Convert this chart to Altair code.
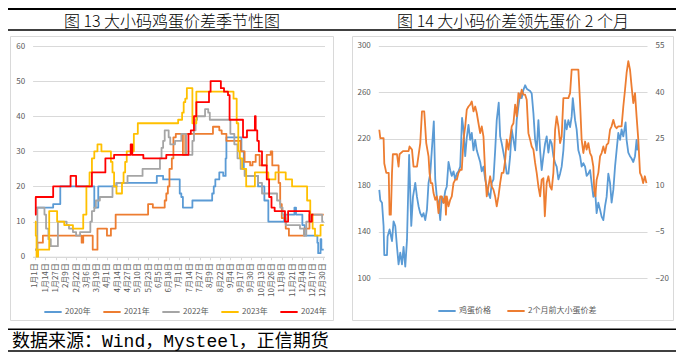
import altair as alt
import pandas as pd

W, H = 668, 344
FONT = "Noto Sans CJK SC"
AX = "#595959"
GRID = "#D9D9D9"

# ---------------- Left panel: seasonal big/small egg spread ----------------
years = ["2020年", "2021年", "2022年", "2023年", "2024年"]
year_colors = ["#5B9BD5", "#ED7D31", "#A5A5A5", "#FFC000", "#FF0000"]

day_2020 = [1, 24, 33, 76, 81, 104, 155, 163, 184, 186, 188, 200, 225, 227, 229, 234, 239, 242, 243, 262, 265, 267, 283, 291, 296, 316, 329, 331, 339, 342, 358, 359, 362, 363, 366]
val_2020 = [14, 15, 20, 14, 20, 21, 23, 22, 18, 17, 14, 16, 18, 20, 22, 24, 23, 28, 34, 30, 25, 23, 20, 16, 10, 12, 14, 12, 9, 6, 4, 1, 5, 2, 2]

day_2021 = [1, 4, 11, 60, 62, 74, 80, 92, 97, 103, 144, 150, 165, 167, 169, 171, 174, 176, 179, 188, 191, 226, 234, 237, 243, 261, 266, 273, 276, 280, 285, 294, 299, 301, 309, 311, 313, 318, 322, 341, 348, 366]
val_2021 = [2, 4, 6, 4, 6, 2, 8, 6, 8, 12, 15, 14, 16, 18, 20, 25, 28, 34, 35, 29, 35, 37, 36, 35, 33, 30, 27, 26, 27, 29, 26, 29, 30, 26, 21, 15, 11, 8, 6, 8, 12, 12]

day_2022 = [1, 4, 13, 15, 18, 21, 30, 41, 44, 49, 53, 58, 71, 73, 76, 78, 83, 99, 104, 118, 137, 159, 161, 163, 165, 170, 172, 178, 186, 192, 200, 202, 204, 206, 216, 220, 222, 248, 253, 257, 261, 266, 283, 288, 307, 311, 314, 318, 336, 341, 344, 349, 364, 366]
val_2022 = [2, 14, 12, 8, 5, 3, 10, 9, 8, 7, 6, 7, 10, 13, 14, 16, 17, 20, 21, 23, 25, 28, 31, 33, 36, 34, 32, 33, 35, 29, 33, 36, 39, 40, 42, 41, 39, 35, 32, 28, 25, 23, 21, 18, 16, 14, 12, 9, 8, 6, 10, 12, 10, 10]

day_2023 = [1, 2, 3, 5, 19, 29, 38, 49, 62, 66, 70, 73, 76, 80, 85, 97, 99, 101, 104, 111, 113, 115, 117, 126, 131, 182, 187, 189, 191, 193, 200, 205, 252, 256, 258, 260, 263, 268, 279, 296, 305, 318, 326, 345, 349, 352, 355, 362, 366]
val_2023 = [10, 6, 0, 2, 13, 10, 9, 8, 12, 20, 24, 28, 30, 32, 30, 27, 24, 20, 18, 21, 24, 27, 30, 35, 38, 39, 41, 44, 45, 48, 38, 47, 45, 38, 30, 28, 25, 20, 24, 22, 24, 22, 20, 16, 12, 8, 6, 9, 9]

day_2024 = [1, 2, 24, 46, 53, 73, 90, 101, 122, 124, 138, 167, 195, 198, 202, 205, 221, 223, 236, 240, 245, 247, 264, 269, 279, 280, 282, 284, 288, 294, 297, 300, 304, 317, 321, 348, 351, 353]
val_2024 = [12, 17, 20, 23, 20, 24, 28, 29, 32, 29, 28, 29, 35, 36, 40, 44, 47, 50, 48, 47, 46, 39, 34, 36, 40, 36, 33, 30, 26, 22, 17, 14, 13, 10, 13, 10, 12, 12]

tick_days = [1, 14, 27, 40, 53, 66, 79, 92, 105, 118, 131, 144, 157, 170, 183, 196, 209, 222, 235, 248, 261, 274, 287, 300, 313, 326, 339, 352, 365]
left_y_ticks = [0, 10, 20, 30, 40, 50, 60]

# ---------------- Right panel: egg price vs spread 2 months earlier ----------------
price_name = "鸡蛋价格"
spread_name = "2个月前大小蛋价差"

price_dates = ["2020-01-01", "2020-01-08", "2020-01-20", "2020-01-31", "2020-02-05", "2020-02-24", "2020-02-28", "2020-03-13", "2020-03-30", "2020-04-10",
               "2020-04-22", "2020-05-04", "2020-05-15", "2020-05-27", "2020-06-08", "2020-06-19", "2020-07-01", "2020-07-13", "2020-07-28", "2020-08-12",
               "2020-08-24", "2020-09-09", "2020-09-21", "2020-10-02", "2020-10-14", "2020-10-26", "2020-11-06", "2020-11-18", "2020-11-30", "2020-12-11",
               "2020-12-23", "2021-01-03", "2021-01-17", "2021-01-27", "2021-02-07", "2021-02-19", "2021-03-03", "2021-03-14", "2021-03-26", "2021-04-07",
               "2021-04-18", "2021-04-30", "2021-05-12", "2021-05-23", "2021-06-04", "2021-06-16", "2021-06-27", "2021-07-09", "2021-07-21", "2021-08-03",
               "2021-08-13", "2021-08-25", "2021-09-05", "2021-09-17", "2021-09-29", "2021-10-10", "2021-10-22", "2021-11-03", "2021-11-14", "2021-11-26",
               "2021-12-08", "2021-12-19", "2021-12-31", "2022-01-12", "2022-01-23", "2022-02-04", "2022-02-16", "2022-02-27", "2022-03-11", "2022-03-23",
               "2022-04-03", "2022-04-17", "2022-04-27", "2022-05-08", "2022-05-20", "2022-06-01", "2022-06-12", "2022-06-24", "2022-07-06", "2022-07-17",
               "2022-07-29", "2022-08-10", "2022-08-21", "2022-09-02", "2022-09-14", "2022-09-25", "2022-10-07", "2022-10-19", "2022-10-30", "2022-11-11",
               "2022-11-23", "2022-12-04", "2022-12-16", "2022-12-28", "2023-01-08", "2023-01-20", "2023-02-01", "2023-02-12", "2023-02-24", "2023-03-08",
               "2023-03-19", "2023-03-31", "2023-04-12", "2023-04-23", "2023-05-05", "2023-05-17", "2023-05-28", "2023-06-09", "2023-06-21", "2023-07-02",
               "2023-07-14", "2023-07-26", "2023-08-06", "2023-08-18", "2023-08-30", "2023-09-10", "2023-09-18", "2023-10-04", "2023-10-15", "2023-10-27",
               "2023-11-08", "2023-11-19", "2023-12-01", "2023-12-13", "2023-12-24", "2024-01-05", "2024-01-17", "2024-01-28", "2024-02-09", "2024-02-21",
               "2024-03-03", "2024-03-15", "2024-03-27", "2024-04-07", "2024-04-19", "2024-05-01", "2024-05-12", "2024-05-24", "2024-06-05", "2024-06-16",
               "2024-06-28", "2024-07-10", "2024-07-21", "2024-08-02", "2024-08-14", "2024-08-25", "2024-09-06", "2024-09-22", "2024-09-29", "2024-10-11",
               "2024-10-23", "2024-11-03", "2024-11-15", "2024-11-27", "2024-12-08", "2024-12-15"]
price_vals = [176, 167, 165, 145, 120, 120, 136, 142, 132, 149,
              145, 127, 112, 122, 112, 127, 110, 133, 206, 145,
              170, 182, 170, 162, 156, 153, 156, 150, 159, 182,
              190, 210, 235, 185, 170, 165, 150, 170, 165, 175,
              179, 200, 193, 188, 192, 185, 190, 192, 196, 238,
              228, 205, 221, 232, 219, 225, 210, 219, 210, 205,
              200, 192, 196, 185, 179, 173, 169, 182, 185, 210,
              236, 251, 222, 216, 208, 200, 190, 190, 205, 228,
              219, 210, 236, 248, 259, 255, 262, 266, 263, 262,
              261, 259, 242, 219, 210, 236, 210, 193, 205, 216,
              222, 208, 219, 216, 205, 199, 196, 185, 190, 196,
              210, 236, 228, 236, 230, 239, 255, 236, 228, 210,
              205, 196, 199, 196, 188, 190, 193, 182, 170, 176,
              156, 165, 159, 153, 150, 162, 170, 190, 182, 165,
              176, 196, 210, 225, 219, 228, 222, 234, 219, 208,
              205, 203, 200, 205, 219, 210]

spread_dates = ["2020-01-01", "2020-01-08", "2020-01-31", "2020-02-05", "2020-02-19", "2020-03-07", "2020-03-13", "2020-03-22", "2020-03-30", "2020-04-05",
                "2020-05-04", "2020-05-15", "2020-05-22", "2020-06-15", "2020-07-24", "2020-07-31", "2020-08-17", "2020-08-28", "2020-09-21", "2020-10-14",
                "2020-10-26", "2020-11-11", "2020-11-25", "2020-12-11", "2020-12-18", "2020-12-27", "2021-01-06", "2021-01-15", "2021-01-27", "2021-02-07",
                "2021-02-19", "2021-03-03", "2021-03-14", "2021-03-26", "2021-04-07", "2021-04-12", "2021-04-18", "2021-04-30", "2021-05-12", "2021-05-23",
                "2021-06-04", "2021-06-16", "2021-06-27", "2021-07-09", "2021-07-21", "2021-08-01", "2021-08-13", "2021-08-25", "2021-09-05", "2021-09-17",
                "2021-09-29", "2021-10-10", "2021-10-22", "2021-11-03", "2021-11-14", "2021-11-26", "2021-12-08", "2021-12-19", "2021-12-31", "2022-01-12",
                "2022-01-23", "2022-02-04", "2022-02-16", "2022-02-27", "2022-03-11", "2022-03-23", "2022-04-03", "2022-04-15", "2022-04-27", "2022-05-08",
                "2022-05-20", "2022-06-01", "2022-06-12", "2022-06-24", "2022-07-06", "2022-07-17", "2022-07-29", "2022-08-10", "2022-08-21", "2022-09-02",
                "2022-09-14", "2022-09-25", "2022-10-07", "2022-10-19", "2022-10-30", "2022-11-11", "2022-11-23", "2022-12-04", "2022-12-16", "2022-12-28",
                "2023-01-08", "2023-01-20", "2023-02-01", "2023-02-12", "2023-02-24", "2023-03-06", "2023-03-19", "2023-03-31", "2023-04-12", "2023-04-23",
                "2023-05-05", "2023-05-17", "2023-05-28", "2023-06-09", "2023-06-21", "2023-07-02", "2023-07-14", "2023-08-18", "2023-08-30", "2023-09-10",
                "2023-10-27", "2023-11-08", "2023-11-19", "2023-12-01", "2023-12-13", "2023-12-24", "2024-01-05", "2024-01-17", "2024-01-28", "2024-02-09",
                "2024-02-15", "2024-02-23", "2024-03-03", "2024-03-15", "2024-03-27", "2024-04-07", "2024-04-19", "2024-05-01", "2024-05-12", "2024-05-24",
                "2024-06-05", "2024-06-16", "2024-06-28", "2024-07-10", "2024-07-21", "2024-08-02", "2024-08-25", "2024-09-06", "2024-09-18", "2024-09-29",
                "2024-10-11", "2024-10-23", "2024-11-03", "2024-11-15", "2024-11-27", "2024-12-08", "2024-12-20", "2025-01-01", "2025-01-12", "2025-01-23",
                "2025-02-04", "2025-02-15"]
spread_vals = [27.9, 25.2, 25.2, 17, 14, 14, 0.5, 0.5, 14, 20,
               20, 16, 20, 21, 21, 22.5, 21.5, 16, 16, 23.6,
               33.8, 33.8, 23.6, 19.3, 14, 10.7, 10.7, 7.5, 5.3, 6.4,
               1, 6.4, 6.4, 4.3, 6.4, 0.5, 6.4, 3.2, 5.3, 6.4,
               10.7, 11.8, 11.8, 14, 15, 15, 24.7, 29, 34.4, 35.4,
               36, 37, 33.8, 35.4, 33.3, 30, 26.8, 29, 25.7, 14,
               6.4, 9.6, 12.9, 9.6, 8.6, 6.4, 3.2, 6.4, 10.7, 14,
               14, 18, 24.7, 21.5, 25.2, 29, 30, 36, 32.2, 39.7,
               38.1, 40.8, 39.2, 39.2, 37.6, 26.8, 24.7, 22.5, 21.5, 17.2,
               14, 9.6, 6.4, 11.8, 12.3, 0, 10.7, 12.9, 9.6, 8.6,
               14, 27.9, 32.2, 29, 23.6, 25.7, 38.1, 38.1, 39.7, 47.3,
               47.3, 36.5, 24.7, 20.4, 24.1, 21.5, 23.6, 20.4, 19.3, 16,
               8.6, 6.4, 11.8, 14, 19.3, 20.4, 22.5, 20.4, 23, 23.6,
               27.9, 29, 31.1, 29, 28.4, 29, 29, 35.4, 40.8, 46.2,
               50, 47.3, 41.9, 36.5, 39.7, 32.2, 24.7, 14, 12.9, 10.7,
               12.9, 10.7]

price_ticks = [100, 140, 180, 220, 260, 300]
spread_ticks = [-20, -5, 10, 25, 40, 55]
x_years = [2020, 2021, 2022, 2023, 2024, 2025]

title_left = "图 13 大小码鸡蛋价差季节性图"
title_right = "图 14 大小码价差领先蛋价 2 个月"
source_text = "数据来源：Wind，Mysteel，正信期货"

# ---------------- data frames ----------------
rows = []
for yr, ds, vs in zip(years, [day_2020, day_2021, day_2022, day_2023, day_2024],
                      [val_2020, val_2021, val_2022, val_2023, val_2024]):
    for d, v in zip(ds, vs):
        rows.append({"year": yr, "day": d, "value": v})
season_df = pd.DataFrame(rows)

price_df = pd.DataFrame({"date": price_dates, "value": price_vals, "series": price_name})
spread_df = pd.DataFrame({"date": spread_dates, "value": spread_vals, "series": spread_name})
one = pd.DataFrame({"k": [0]})

# ---------------- decorations ----------------
def hline(y, x1, x2, w):
    return alt.Chart(one).mark_rule(color="black", strokeWidth=w).encode(
        x=alt.value(x1), x2=alt.value(x2), y=alt.value(y))

def frame(x1, x2, y1, y2):
    return alt.Chart(one).mark_rect(fillOpacity=0, stroke="#D9D9D9", strokeWidth=1).encode(
        x=alt.value(x1), x2=alt.value(x2), y=alt.value(y1), y2=alt.value(y2))

def label(txt, x, y, size, align, font, baseline="middle", weight="normal"):
    return alt.Chart(one).mark_text(text=txt, font=font, fontSize=size, align=align,
                                    baseline=baseline, color="black", fontWeight=weight).encode(
        x=alt.value(x), y=alt.value(y))

deco = [
    hline(1, 0, W, 2),
    label(title_left, 164, 18.8, 16, "center", FONT, "alphabetic", 300),
    label(title_right, 505, 18.8, 16, "center", FONT, "alphabetic", 300),
    hline(22, 0, W, 1.5),
    frame(2.5, 325.5, 28.5, 312.5),
    frame(344.5, 665.5, 28.5, 312.5),
    hline(321.3, 0, W, 1.5),
    label(source_text, 4, 334, 18, "left", "'Liberation Mono', 'Noto Sans CJK SC'"),
    hline(343, 0, W, 1.5),
]

# ---------------- left panel ----------------
left_panel = alt.Chart(season_df).mark_line(interpolate="step-after", strokeWidth=1.8, strokeJoin="round").encode(
    x=alt.X("day:Q",
            scale=alt.Scale(domain=[-2, 367], range=[24.6, 316.5], nice=False, zero=False),
            axis=alt.Axis(orient="bottom", offset=-95.3, values=tick_days,
                          labelExpr="timeFormat(datetime(2024, 0, datum.value), '%-m月%-d日')",
                          labelAngle=270, labelFontSize=8, labelColor=AX, labelFont=FONT,
                          labelOverlap=False, labelPadding=3, grid=False,
                          domainColor=GRID, tickColor=GRID, tickSize=3, title=None)),
    y=alt.Y("value:Q",
            scale=alt.Scale(domain=[0, 60], range=[248.7, 38], nice=False, zero=False),
            axis=alt.Axis(orient="left", offset=-24.6, values=left_y_ticks, grid=True,
                          gridColor=GRID, domain=False, ticks=False, labelPadding=8,
                          labelFontSize=8, labelColor=AX, labelFont=FONT, title=None)),
    color=alt.Color("year:N",
                    scale=alt.Scale(domain=years, range=year_colors),
                    legend=alt.Legend(orient="none", legendX=35, legendY=294, direction="horizontal",
                                      title=None, symbolType="stroke", symbolStrokeWidth=2,
                                      symbolSize=300, labelFontSize=8, labelColor=AX, labelFont=FONT,
                                      columnPadding=8, labelOffset=2)),
)

# ---------------- right panel ----------------
right_color = alt.Color("series:N",
                        scale=alt.Scale(domain=[price_name, spread_name], range=["#5B9BD5", "#ED7D31"]),
                        legend=alt.Legend(orient="none", legendX=429, legendY=293, direction="horizontal",
                                          title=None, symbolType="stroke", symbolStrokeWidth=2,
                                          symbolSize=300, labelFontSize=8, labelColor=AX, labelFont=FONT,
                                          columnPadding=12, labelOffset=2))

right_x_scale = alt.Scale(domain=[alt.DateTime(year=2019, month=12, date=25),
                                  alt.DateTime(year=2025, month=2, date=19)],
                          range=[370.3, 639], nice=False)

price_line = alt.Chart(price_df).mark_line(strokeWidth=1.8, strokeJoin="round").encode(
    x=alt.X("date:T", scale=right_x_scale,
            axis=alt.Axis(orient="bottom", offset=-73.7,
                          values=[alt.DateTime(year=y, month=1, date=1) for y in x_years],
                          format="%Y/%-m/%-d", labelAngle=0, labelFontSize=8, labelColor=AX,
                          labelFont=FONT, labelOverlap=False, labelPadding=3, grid=False,
                          domainColor=GRID, tickColor=GRID, tickSize=4, title=None)),
    y=alt.Y("value:Q",
            scale=alt.Scale(domain=[100, 300], range=[270.3, 37.7], nice=False, zero=False),
            axis=alt.Axis(orient="left", offset=-370.3, values=price_ticks, grid=True,
                          gridColor=GRID, domain=False, ticks=False, labelPadding=8,
                          labelFontSize=8, labelColor=AX, labelFont=FONT, title=None)),
    color=right_color,
)

spread_line = alt.Chart(spread_df).mark_line(strokeWidth=1.8, strokeJoin="round").encode(
    x=alt.X("date:T", scale=right_x_scale, axis=None),
    y=alt.Y("value:Q",
            scale=alt.Scale(domain=[-20, 55], range=[270.3, 37.7], nice=False, zero=False),
            axis=alt.Axis(orient="right", offset=-29, values=spread_ticks, grid=False,
                          domain=False, ticks=False, labelPadding=8,
                          labelFontSize=8, labelColor=AX, labelFont=FONT, title=None)),
    color=right_color,
)

right_panel = alt.layer(price_line, spread_line).resolve_scale(y="independent")

chart = alt.layer(*deco, left_panel, right_panel).resolve_scale(
    x="independent", y="independent", color="independent"
).properties(
    width=W, height=H,
    autosize=alt.AutoSizeParams(type="none"),
    padding=0,
).configure_view(strokeWidth=0)

chart.save("out.html", embed_options={"renderer": "svg", "actions": False})
